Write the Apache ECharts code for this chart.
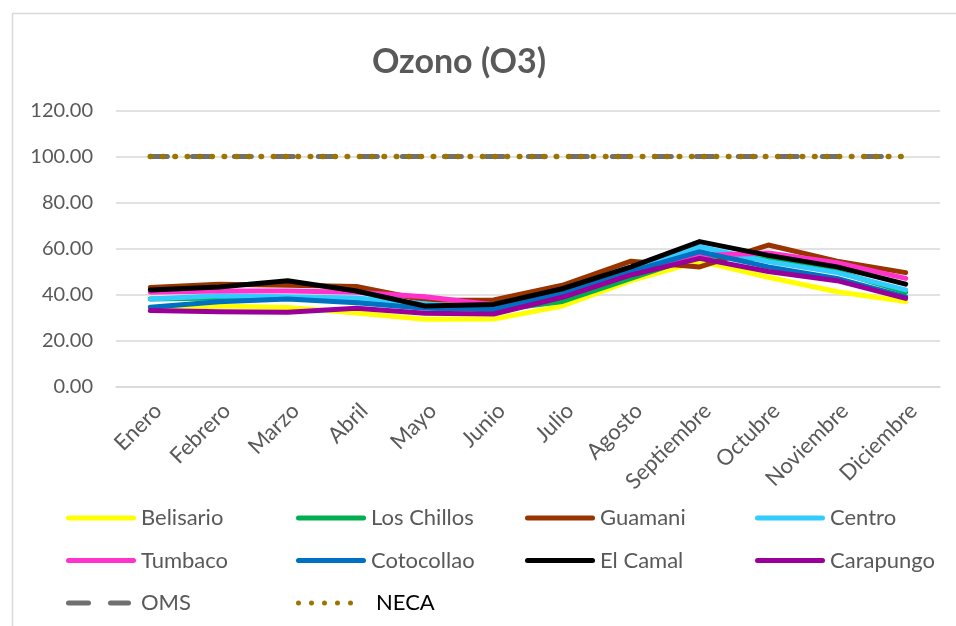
<!DOCTYPE html>
<html>
<head>
<meta charset="utf-8">
<script src="https://cdn.jsdelivr.net/npm/echarts@6/dist/echarts.min.js"></script>
<style>
html,body{margin:0;padding:0;background:#fff;}
#chart{width:956px;height:626px;}
</style>
</head>
<body>
<div id="chart"></div>
<script>
const months = ['Enero','Febrero','Marzo','Abril','Mayo','Junio','Julio','Agosto','Septiembre','Octubre','Noviembre','Diciembre'];
const belisario  = [33.0, 35.0, 34.4, 32.0, 29.2, 29.3, 35.0, 46.0, 54.5, 47.5, 41.2, 37.0];
const losChillos = [38.0, 38.5, 38.5, 38.0, 35.5, 33.0, 37.0, 47.0, 57.0, 55.3, 50.0, 41.0];
const guamani    = [43.0, 44.5, 44.0, 43.5, 37.5, 37.6, 44.0, 54.5, 52.0, 61.5, 54.5, 49.5];
const centro     = [38.0, 39.5, 39.0, 38.5, 36.0, 33.5, 40.5, 50.0, 60.8, 54.3, 49.5, 42.0];
const tumbaco    = [41.0, 41.5, 41.5, 41.0, 39.0, 35.5, 40.0, 49.0, 57.0, 58.0, 53.8, 47.0];
const cotocollao = [34.5, 36.8, 38.0, 36.4, 34.0, 33.5, 40.5, 50.0, 58.6, 52.0, 47.0, 39.0];
const elCamal    = [42.0, 43.3, 46.0, 41.5, 35.0, 35.7, 42.5, 52.0, 63.0, 57.0, 52.0, 44.5];
const carapungo  = [33.0, 32.5, 32.3, 34.0, 31.8, 31.5, 38.8, 48.5, 55.7, 50.0, 46.0, 38.3];
const oms        = [100, 100, 100, 100, 100, 100, 100, 100, 100, 100, 100, 100];
const neca       = [100, 100, 100, 100, 100, 100, 100, 100, 100, 100, 100, 100];
const yTicks = [0, 20, 40, 60, 80, 100, 120];

const FONT = 'Lato';
const GRAY = '#595959';
const stations = [
  ['Belisario', belisario, '#FFFF00'],
  ['Los Chillos', losChillos, '#00B050'],
  ['Guamani', guamani, '#993300'],
  ['Centro', centro, '#33CCFF'],
  ['Tumbaco', tumbaco, '#FF33CC'],
  ['Cotocollao', cotocollao, '#0070C0'],
  ['El Camal', elCamal, '#000000'],
  ['Carapungo', carapungo, '#990099']
];
const series = stations.map(s => ({
  name: s[0], type: 'line', data: s[1], symbol: 'none', color: s[2],
  lineStyle: {width: 5, color: s[2], cap: 'round', join: 'round'},
  emphasis: {disabled: true}, animation: false
}));
series.unshift(
  {name: 'OMS', type: 'line', data: oms, symbol: 'none', color: '#707070',
   lineStyle: {width: 5, color: '#707070', type: [17, 25], cap: 'round'}, animation: false, z: 1},
  {name: 'NECA', type: 'line', data: neca, symbol: 'none', color: '#9E7400',
   lineStyle: {width: 5.5, color: '#9E7400', type: [0.5, 11.8], cap: 'round'}, animation: false, z: 2}
);

const solidIcon = 'path://M2.5,0 L67.5,0 A2.5,2.5 0 0 1 67.5,5 L2.5,5 A2.5,2.5 0 0 1 2.5,0 Z';
const omsIcon = 'path://M2.5,0 L22.5,0 A2.5,2.5 0 0 1 22.5,5 L2.5,5 A2.5,2.5 0 0 1 2.5,0 Z M44.5,0 L62.5,0 A2.5,2.5 0 0 1 62.5,5 L44.5,5 A2.5,2.5 0 0 1 44.5,0 Z M69.9,2.5 L70,2.5';
let dots = '';
for (let i = 0; i < 5; i++) {
  const cx = 2.5 + i * 13;
  dots += 'M' + (cx - 2.5) + ',2.5 A2.5,2.5 0 1 0 ' + (cx + 2.5) + ',2.5 A2.5,2.5 0 1 0 ' + (cx - 2.5) + ',2.5 Z ';
}
const necaIcon = 'path://' + dots + 'M69.9,2.5 L70,2.5';

function legendCol(left, items) {
  return {
    orient: 'vertical', left: left, top: 507, padding: 0,
    itemWidth: 70, itemHeight: 5, itemGap: 20.5, selectedMode: false,
    itemStyle: {borderWidth: 0},
    textStyle: {color: GRAY, fontSize: 22, fontFamily: FONT, lineHeight: 22},
    data: items
  };
}

const chart = echarts.init(document.getElementById('chart'), null, {renderer: 'canvas'});
chart.setOption({
  backgroundColor: '#fff',
  animation: false,
  title: {
    text: 'Ozono (O3)', left: 454, top: 40, textAlign: 'center',
    textStyle: {fontFamily: FONT, fontWeight: 'bold', fontSize: 34, color: GRAY}
  },
  graphic: [{
    type: 'rect', left: 10, top: 11, shape: {width: 980, height: 660},
    style: {fill: 'none', stroke: '#d9d9d9', lineWidth: 1.5}, silent: true
  }],
  grid: {left: 116, right: 16, top: 110.5, bottom: 239.5, containLabel: false},
  xAxis: {
    type: 'category', data: months, boundaryGap: true,
    axisLine: {lineStyle: {color: '#d9d9d9', width: 1.5}},
    axisTick: {show: false},
    axisLabel: {rotate: 45, margin: 13, verticalAlign: 'top', color: GRAY, fontSize: 22, fontFamily: FONT, interval: 0}
  },
  yAxis: {
    type: 'value', min: yTicks[0], max: yTicks[yTicks.length - 1], interval: yTicks[1] - yTicks[0],
    axisLine: {show: false}, axisTick: {show: false},
    splitLine: {lineStyle: {color: '#d9d9d9', width: 1.5}},
    axisLabel: {margin: 23, color: GRAY, fontSize: 20, fontFamily: FONT, formatter: v => v.toFixed(2)}
  },
  legend: [
    legendCol(66, [{name: 'Belisario', icon: solidIcon}, {name: 'Tumbaco', icon: solidIcon}, {name: 'OMS', icon: omsIcon}]),
    legendCol(296, [{name: 'Los Chillos', icon: solidIcon}, {name: 'Cotocollao', icon: solidIcon},
                    {name: 'NECA', icon: necaIcon, textStyle: {color: '#000', padding: [0, 0, 0, 5]}}]),
    legendCol(525, [{name: 'Guamani', icon: solidIcon}, {name: 'El Camal', icon: solidIcon}]),
    legendCol(755, [{name: 'Centro', icon: solidIcon}, {name: 'Carapungo', icon: solidIcon}])
  ],
  series: series
});
</script>
</body>
</html>
